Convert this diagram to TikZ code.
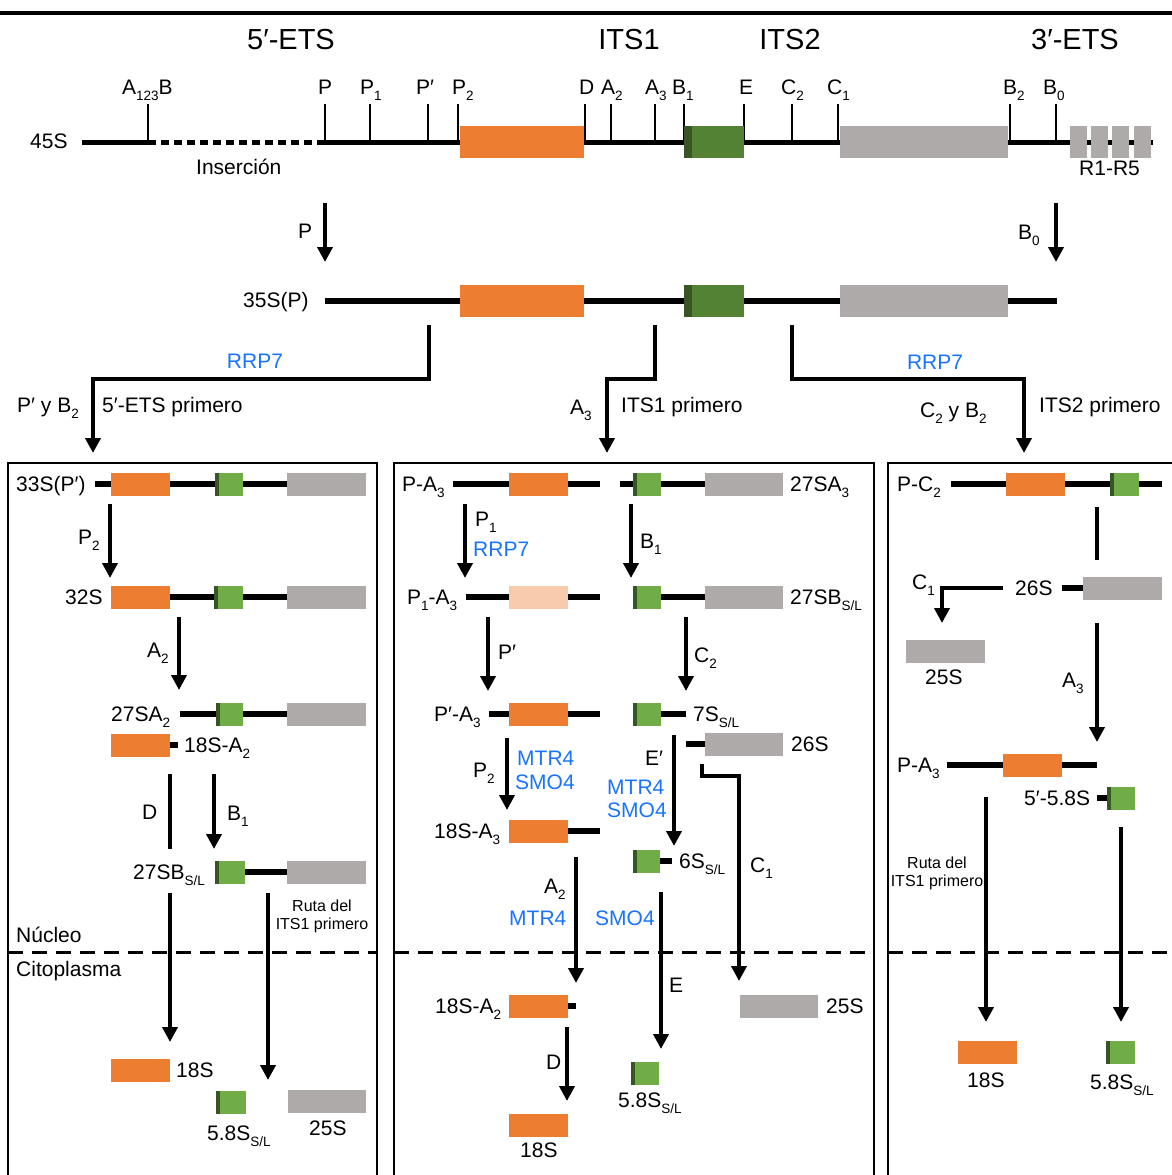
\documentclass[tikz,border=0pt]{standalone}
\usepackage{fontspec}
\setmainfont{Liberation Sans}
\usetikzlibrary{arrows.meta}
\definecolor{orangeC}{RGB}{237,125,49}
\definecolor{lightO}{RGB}{248,203,173}
\definecolor{greenT}{RGB}{84,130,53}
\definecolor{greenC}{RGB}{112,173,71}
\definecolor{darkG}{RGB}{55,86,35}
\definecolor{grayC}{RGB}{174,170,170}
\definecolor{blueC}{RGB}{25,115,255}
\newcommand\sbx[1]{\raisebox{-6pt}{\fontsize{13.5}{14}\selectfont #1}}
\newcommand\bx[5]{\pgfmathsetmacro\bxw{#4-#3}\pgfmathsetmacro\bxc{(#3+#4)/2}\node[#2,minimum width=\bxw pt] (#1) at (\bxc,#5) {};}
\newcommand\rl[3]{\draw[rna] (#1,#3) -- (#2,#3);}
\newcommand\varr[4]{\coordinate (#1a) at (#2,#3);\coordinate (#1b) at (#2,#4);\draw[arr] (#1a) -- (#1b);}
\newcommand\vseg[4]{\coordinate (#1a) at (#2,#3);\coordinate (#1b) at (#2,#4);\draw[conn] (#1a) -- (#1b);}
\newcommand\tk[3]{\coordinate (#1a) at (#2,104);\coordinate (#1b) at (#2,142);\draw[tickln] (#1a) -- (#1b);}
\tikzset{
  rna/.style={line width=5.5pt},
  tickln/.style={line width=2.5pt},
  conn/.style={line width=4pt},
  arr/.style={line width=4pt,-{Triangle[width=15pt,length=15pt]}},
  rbox/.style={inner sep=0pt,outer sep=0pt,minimum height=23pt,draw=none},
  big/.style={minimum height=32pt},
  ob/.style={rbox,fill=orangeC},
  lob/.style={rbox,fill=lightO},
  gyb/.style={rbox,fill=grayC},
  gb/.style={rbox,fill=greenC,path picture={\fill[darkG] (path picture bounding box.north west) rectangle ([xshift=4pt]path picture bounding box.south west);}},
  gbt/.style={rbox,fill=greenT,path picture={\fill[darkG] (path picture bounding box.north west) rectangle ([xshift=8pt]path picture bounding box.south west);}},
  lbl/.style={anchor=base west,inner sep=0pt,font=\fontsize{21}{25}\selectfont},
  clbl/.style={anchor=base,inner sep=0pt,font=\fontsize{21}{25}\selectfont},
  blu/.style={lbl,text=blueC},
  hdr/.style={anchor=base,inner sep=0pt,font=\fontsize{29}{33}\selectfont},
  small/.style={anchor=base,inner sep=0pt,font=\fontsize{16}{18}\selectfont},
  panel/.style={line width=2.5pt},
  sep/.style={line width=3pt,dash pattern=on 15pt off 9pt}
}
\begin{document}
\begin{tikzpicture}[x=1pt,y=-1pt]
\useasboundingbox (0,0) rectangle (1172,1175);
% top rule
\coordinate (topL) at (0,13); \coordinate (topR) at (1172,13);
\draw[line width=4pt] (topL) -- (topR);
\node[hdr] (h1) at (291,49) {5′-ETS};
\node[hdr] (h2) at (629,49) {ITS1};
\node[hdr] (h3) at (790,49) {ITS2};
\node[hdr] (h4) at (1075,49) {3′-ETS};
% 45S
\draw[line width=5pt] (82,142) -- (148,142);
\draw[line width=5pt,dash pattern=on 8pt off 5pt] (148,142) -- (325,142);
\draw[line width=5pt] (325,142) -- (1153,142);
\tk{tA}{148}{}\tk{tP}{325}{}\tk{tP1}{370}{}\tk{tPp}{428}{}\tk{tP2}{458}{}
\tk{tD}{585}{}\tk{tA2}{611}{}\tk{tA3}{655}{}\tk{tB1}{684}{}\tk{tE}{744}{}
\tk{tC2}{792}{}\tk{tC1}{838}{}\tk{tB2}{1010}{}\tk{tB0}{1056}{}
\bx{o45}{ob,big}{460}{584}{142}
\bx{g45}{gbt,big}{684}{744}{142}
\bx{y45}{gyb,big}{840}{1008}{142}
\bx{r1}{gyb,big}{1070}{1087}{142}
\bx{r2}{gyb,big}{1091}{1108}{142}
\bx{r3}{gyb,big}{1112}{1129}{142}
\bx{r4}{gyb,big}{1134}{1151}{142}
\node[lbl] (l45) at (30,148) {45S};
\node[lbl] (lIns) at (196,174) {Inserción};
\node[lbl] (lR) at (1079,175) {R1-R5};
\node[lbl] (kA) at (122,94) {A\sbx{123}B};
\node[lbl] (kP) at (318,94) {P};
\node[lbl] (kP1) at (360,94) {P\sbx{1}};
\node[lbl] (kPp) at (416,94) {P′};
\node[lbl] (kP2) at (452,94) {P\sbx{2}};
\node[lbl] (kD) at (579,94) {D};
\node[lbl] (kA2) at (601,94) {A\sbx{2}};
\node[lbl] (kA3) at (645,94) {A\sbx{3}};
\node[lbl] (kB1) at (672,94) {B\sbx{1}};
\node[lbl] (kE) at (739,94) {E};
\node[lbl] (kC2) at (781,94) {C\sbx{2}};
\node[lbl] (kC1) at (827,94) {C\sbx{1}};
\node[lbl] (kB2) at (1003,94) {B\sbx{2}};
\node[lbl] (kB0) at (1043,94) {B\sbx{0}};
% P and B0 arrows
\varr{aP}{325}{203}{262}
\node[lbl] (laP) at (298,238) {P};
\varr{aB0}{1056}{203}{262}
\node[lbl] (laB0) at (1018,239) {B\sbx{0}};
% 35S
\node[lbl] (l35) at (243,307) {35S(P)};
\rl{325}{1057}{301}
\bx{o35}{ob,big}{460}{584}{301}
\bx{g35}{gbt,big}{684}{744}{301}
\bx{y35}{gyb,big}{840}{1008}{301}
% branches
\coordinate (bL1) at (429,325); \coordinate (bL2) at (429,379); \coordinate (bL3) at (93,379); \coordinate (bL4) at (93,453);
\draw[arr] (bL1) -- (bL2) -- (bL3) -- (bL4);
\coordinate (bM1) at (655,325); \coordinate (bM2) at (655,379); \coordinate (bM3) at (607,379); \coordinate (bM4) at (607,453);
\draw[arr] (bM1) -- (bM2) -- (bM3) -- (bM4);
\coordinate (bR1) at (792,325); \coordinate (bR2) at (792,379); \coordinate (bR3) at (1024,379); \coordinate (bR4) at (1024,453);
\draw[arr] (bR1) -- (bR2) -- (bR3) -- (bR4);
\node[clbl,text=blueC] (rrpL) at (255,368) {RRP7};
\node[clbl,text=blueC] (rrpR) at (935,369) {RRP7};
\node[lbl] (bl1) at (17,412) {P′ y B\sbx{2}};
\node[lbl] (bl2) at (102,412) {5′-ETS primero};
\node[lbl] (bl3) at (570,414) {A\sbx{3}};
\node[lbl] (bl4) at (621,412) {ITS1 primero};
\node[lbl] (bl5) at (920,417) {C\sbx{2} y B\sbx{2}};
\node[lbl] (bl6) at (1039,412) {ITS2 primero};
% panels
\draw[panel] (8,1185) -- (8,463) -- (377,463) -- (377,1185);
\draw[panel] (394,1185) -- (394,463) -- (874,463) -- (874,1185);
\draw[panel] (1185,463) -- (888,463) -- (888,1185);
\draw[sep] (8,952) -- (377,952);
\draw[sep] (394,952) -- (874,952);
\draw[sep] (888,952) -- (1180,952);
\node[lbl] (nuc) at (16,942) {Núcleo};
\node[lbl] (cit) at (16,976) {Citoplasma};
% ---------- left panel
\node[lbl] (a1) at (16,491) {33S(P′)};
\rl{95}{287}{484}
\bx{a1o}{ob}{111}{170}{484}\bx{a1g}{gb}{215}{243}{484}\bx{a1y}{gyb}{287}{366}{484}
\varr{aa1}{110}{504}{578}
\node[lbl] (aa1l) at (78,544) {P\sbx{2}};
\node[lbl] (a2) at (65,604) {32S};
\rl{170}{287}{597}
\bx{a2o}{ob}{111}{170}{597}\bx{a2g}{gb}{214}{243}{597}\bx{a2y}{gyb}{287}{366}{597}
\varr{aa2}{179}{617}{690}
\node[lbl] (aa2l) at (147,657) {A\sbx{2}};
\node[lbl] (a3) at (111,721) {27SA\sbx{2}};
\rl{180}{287}{714}
\bx{a3g}{gb}{216}{243}{714}\bx{a3y}{gyb}{287}{366}{714}
\rl{168}{178}{745}
\bx{a3o}{ob}{111}{170}{745}
\node[lbl] (a3b) at (184,752) {18S-A\sbx{2}};
\vseg{aD}{170}{774}{849}
\node[lbl] (aDl) at (142,819) {D};
\varr{aB}{214}{774}{849}
\node[lbl] (aBl) at (227,820) {B\sbx{1}};
\node[lbl] (a4) at (133,879) {27SB\sbx{S/L}};
\rl{245}{287}{872}
\bx{a4g}{gb}{215}{245}{872}\bx{a4y}{gyb}{287}{366}{872}
\varr{aD2}{170}{893}{1042}
\varr{aR}{268}{893}{1080}
\node[small] (aru1) at (322,911) {Ruta del};
\node[small] (aru2) at (322,929) {ITS1 primero};
\bx{a5o}{ob}{111}{170}{1070}
\node[lbl] (a5l) at (176,1077) {18S};
\bx{a5g}{gb}{216}{246}{1102}
\node[lbl] (a5gl) at (207,1140) {5.8S\sbx{S/L}};
\bx{a5y}{gyb}{288}{366}{1101}
\node[lbl] (a5yl) at (309,1135) {25S};
% ---------- middle panel
\node[lbl] (m1) at (402,491) {P-A\sbx{3}};
\rl{453}{600}{484}\rl{620}{705}{484}
\bx{m1o}{ob}{509}{568}{484}\bx{m1g}{gb}{633}{661}{484}\bx{m1y}{gyb}{705}{783}{484}
\node[lbl] (m1r) at (790,491) {27SA\sbx{3}};
\varr{mP1}{465}{504}{578}
\node[lbl] (mP1l) at (475,526) {P\sbx{1}};
\node[blu] (mP1b) at (473,556) {RRP7};
\varr{mB1}{631}{504}{578}
\node[lbl] (mB1l) at (640,548) {B\sbx{1}};
\node[lbl] (m2) at (407,604) {P\sbx{1}-A\sbx{3}};
\rl{466}{600}{597}\rl{661}{705}{597}
\bx{m2o}{lob}{509}{568}{597}\bx{m2g}{gb}{633}{661}{597}\bx{m2y}{gyb}{705}{783}{597}
\node[lbl] (m2r) at (790,604) {27SB\sbx{S/L}};
\varr{mPp}{488}{617}{691}
\node[lbl] (mPpl) at (498,659) {P′};
\varr{mC2}{686}{617}{691}
\node[lbl] (mC2l) at (694,662) {C\sbx{2}};
\node[lbl] (m3) at (434,721) {P′-A\sbx{3}};
\rl{489}{600}{714}\rl{661}{686}{714}
\bx{m3o}{ob}{509}{568}{714}\bx{m3g}{gb}{633}{661}{714}
\node[lbl] (m3r) at (693,721) {7S\sbx{S/L}};
\rl{686}{705}{744}
\bx{m3y}{gyb}{705}{783}{744}
\node[lbl] (m3yl) at (791,751) {26S};
\varr{mP2}{507}{738}{810}
\node[lbl] (mP2l) at (473,777) {P\sbx{2}};
\node[blu] (mP2b1) at (517,765) {MTR4};
\node[blu] (mP2b2) at (515,789) {SMO4};
\varr{mEp}{674}{735}{846}
\node[lbl] (mEpl) at (645,765) {E′};
\node[blu] (mEpb1) at (607,794) {MTR4};
\node[blu] (mEpb2) at (607,817) {SMO4};
\coordinate (mc1) at (702,764); \coordinate (mc2) at (702,776); \coordinate (mc3) at (739,776); \coordinate (mc4) at (739,981);
\draw[arr] (mc1) -- (mc2) -- (mc3) -- (mc4);
\node[lbl] (mC1l) at (750,872) {C\sbx{1}};
\node[lbl] (m4) at (434,838) {18S-A\sbx{3}};
\rl{568}{600}{831}
\bx{m4o}{ob}{509}{568}{831}
\rl{658}{672}{861}
\bx{m4g}{gb}{633}{660}{861}
\node[lbl] (m4r) at (679,868) {6S\sbx{S/L}};
\varr{mA2}{576}{857}{983}
\node[lbl] (mA2l) at (544,893) {A\sbx{2}};
\node[blu] (mA2b) at (509,925) {MTR4};
\varr{mE}{661}{892}{1049}
\node[blu] (mEb) at (595,925) {SMO4};
\node[lbl] (mEl) at (669,992) {E};
\node[lbl] (m5) at (435,1013) {18S-A\sbx{2}};
\rl{566}{576}{1006}
\bx{m5o}{ob}{509}{568}{1006}
\bx{m5y}{gyb}{740}{818}{1006}
\node[lbl] (m5yl) at (826,1013) {25S};
\varr{mD}{567}{1027}{1101}
\node[lbl] (mDl) at (546,1069) {D};
\bx{m6o}{ob}{509}{568}{1125}
\node[lbl] (m6ol) at (520,1157) {18S};
\bx{m6g}{gb}{631}{659}{1073}
\node[lbl] (m6gl) at (618,1107) {5.8S\sbx{S/L}};
% ---------- right panel
\node[lbl] (r1l) at (897,491) {P-C\sbx{2}};
\rl{951}{1162}{484}
\bx{r1o}{ob}{1006}{1065}{484}\bx{r1g}{gb}{1110}{1139}{484}
\vseg{rv}{1097}{507}{560}
\node[lbl] (r2l) at (1015,595) {26S};
\rl{1062}{1085}{588}
\bx{r2y}{gyb}{1083}{1162}{588}
\coordinate (rc1) at (1003,588); \coordinate (rc2) at (942,588); \coordinate (rc3) at (942,623);
\draw[arr] (rc1) -- (rc2) -- (rc3);
\node[lbl] (rC1l) at (912,589) {C\sbx{1}};
\bx{r3y}{gyb}{906}{985}{651}
\node[lbl] (r3yl) at (925,684) {25S};
\varr{rA3}{1097}{623}{742}
\node[lbl] (rA3l) at (1062,687) {A\sbx{3}};
\node[lbl] (r4l) at (897,772) {P-A\sbx{3}};
\rl{947}{1097}{765}
\bx{r4o}{ob}{1003}{1062}{765}
\node[lbl] (r5l) at (1024,805) {5′-5.8S};
\rl{1097}{1109}{798}
\bx{r5g}{gb}{1107}{1135}{798}
\varr{rL}{986}{797}{1022}
\varr{rR}{1121}{827}{1022}
\node[small] (rru1) at (937,868) {Ruta del};
\node[small] (rru2) at (937,886) {ITS1 primero};
\bx{r6o}{ob}{958}{1017}{1052}
\node[lbl] (r6ol) at (967,1087) {18S};
\bx{r6g}{gb}{1106}{1135}{1052}
\node[lbl] (r6gl) at (1090,1089) {5.8S\sbx{S/L}};
\end{tikzpicture}
\end{document}
